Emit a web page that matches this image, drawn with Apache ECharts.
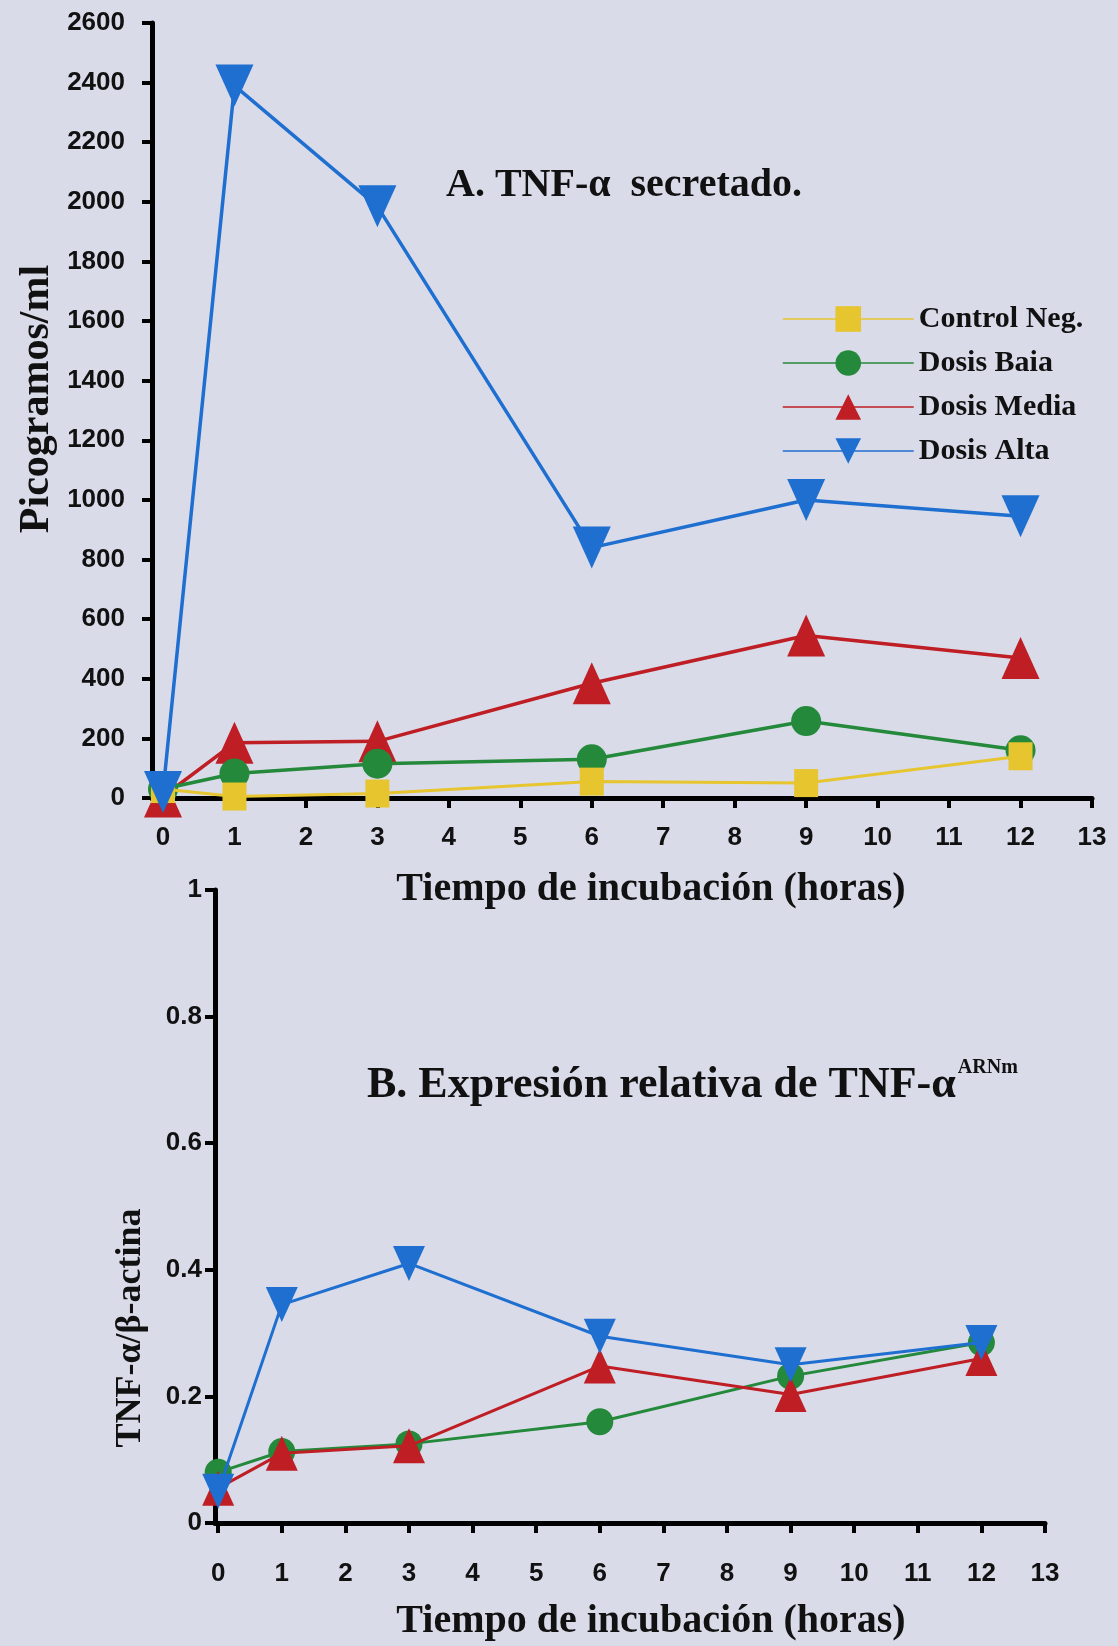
<!DOCTYPE html>
<html><head><meta charset="utf-8">
<script src="https://cdn.jsdelivr.net/npm/echarts@6/dist/echarts.min.js"></script>
<style>html,body{margin:0;padding:0;background:#d9dbe9;}#c{width:1118px;height:1646px;}</style>
</head><body><div id="c"></div>
<script>
// ---- data ----
const hours = [0, 1, 3, 6, 9, 12];
const xTickValues = [0, 1, 2, 3, 4, 5, 6, 7, 8, 9, 10, 11, 12, 13];
const seriesNames = ['Control Neg.', 'Dosis Baia', 'Dosis Media', 'Dosis Alta'];
const secretControlNeg = [30, 5, 15, 55, 50, 140];
const secretDosisBaja = [30, 82, 115, 130, 258, 160];
const secretDosisMedia = [5, 185, 190, 385, 545, 470];
const secretDosisAlta = [20, 2390, 1985, 840, 1000, 945];
const exprDosisBaja = [0.08, 0.113, 0.125, 0.16, 0.232, 0.285];
const exprDosisMedia = [0.055, 0.11, 0.122, 0.248, 0.203, 0.26];
const exprDosisAlta = [0.05, 0.345, 0.41, 0.295, 0.25, 0.285];
const yTicksA = [0, 200, 400, 600, 800, 1000, 1200, 1400, 1600, 1800, 2000, 2200, 2400, 2600];
const yTicksB = [0, 0.2, 0.4, 0.6, 0.8, 1];
const titleA = 'A. TNF-α  secretado.';
const titleB = 'B. Expresión relativa de TNF-α';
const titleBSup = 'ARNm';
const xTitle = 'Tiempo de incubación (horas)';
const yTitleA = 'Picogramos/ml';
const yTitleB = 'TNF-α/β-actina';

// ---- styles ----
const C = {yellow: '#e6c52e', green: '#24893a', red: '#be1e24', blue: '#1e6fd0'};
const serif = '"Liberation Serif", "Times New Roman", serif';
const sans = '"Liberation Sans", Arial, sans-serif';
const downTri = 'path://M0,0L10,0L5,10Z';
const pair = (xs, ys) => xs.map((x, i) => [x, ys[i]]);

function xAxisCfg(gridIndex, min, margin) {
  return {
    type: 'value', gridIndex, min, max: 13,
    axisLine: {onZero: false, lineStyle: {color: '#000', width: 5}},
    axisTick: {show: true, length: 10, lineStyle: {color: '#000', width: 4}, customValues: xTickValues},
    axisLabel: {customValues: xTickValues, color: '#111', fontFamily: sans, fontWeight: 'bold', fontSize: 26, margin},
    splitLine: {show: false}
  };
}
function yAxisCfg(gridIndex, min, max, ticks, margin, fmt) {
  return {
    type: 'value', gridIndex, min, max,
    axisLine: {show: true, onZero: false, lineStyle: {color: '#000', width: 5}},
    axisTick: {show: true, length: 10, lineStyle: {color: '#000', width: 4}, customValues: ticks},
    axisLabel: {customValues: ticks, color: '#111', fontFamily: sans, fontWeight: 'bold', fontSize: 26, margin, formatter: fmt},
    splitLine: {show: false}
  };
}
function lineSeries(name, xi, data, color, symbol, size, width, z) {
  return {
    name, type: 'line', xAxisIndex: xi, yAxisIndex: xi, data,
    symbol, symbolSize: size, showAllSymbol: true, z,
    lineStyle: {color, width}, itemStyle: {color, opacity: 1},
    emphasis: {disabled: true}, animation: false
  };
}

const chart = echarts.init(document.getElementById('c'));
chart.setOption({
  backgroundColor: '#d9dbe9',
  animation: false,
  grid: [
    {left: 152, right: 26, top: 23, height: 775},
    {left: 215, right: 73, top: 890, height: 633}
  ],
  xAxis: [xAxisCfg(0, -0.154, 27), xAxisCfg(1, -0.05, 38)],
  yAxis: [
    yAxisCfg(0, 0, 2600, yTicksA, 27, v => String(v)),
    yAxisCfg(1, 0, 1, yTicksB, 13, v => String(+v.toFixed(1)))
  ],
  legend: {
    orient: 'vertical', left: 777, top: 299,
    itemWidth: 131, itemHeight: 32, itemGap: 14,
    data: seriesNames,
    lineStyle: {width: 1.5},
    textStyle: {fontFamily: serif, fontWeight: 'bold', fontSize: 30, color: '#111'},
    selectedMode: false
  },
  series: [
    lineSeries(seriesNames[0], 0, pair(hours, secretControlNeg), C.yellow, 'rect', [24, 28], 3, 4),
    lineSeries(seriesNames[1], 0, pair(hours, secretDosisBaja), C.green, 'circle', 30, 3.5, 3),
    lineSeries(seriesNames[2], 0, pair(hours, secretDosisMedia), C.red, 'triangle', [38, 42], 3.5, 2),
    lineSeries(seriesNames[3], 0, pair(hours, secretDosisAlta), C.blue, downTri, [38, 42], 3.5, 5),
    lineSeries(seriesNames[1], 1, pair(hours, exprDosisBaja), C.green, 'circle', 27, 3, 2),
    lineSeries(seriesNames[2], 1, pair(hours, exprDosisMedia), C.red, 'triangle', [32, 35], 3, 3),
    lineSeries(seriesNames[3], 1, pair(hours, exprDosisAlta), C.blue, downTri, [32, 35], 3, 4)
  ],
  graphic: [
    {type: 'text', left: 446, top: 166, style: {text: titleA, fontFamily: serif, fontWeight: 'bold', fontSize: 40, fill: '#111'}},
    {type: 'text', x: 651, y: 890, style: {text: xTitle, fontFamily: serif, fontWeight: 'bold', fontSize: 40, fill: '#111', align: 'center', verticalAlign: 'middle'}},
    {type: 'text', x: 37, y: 399, rotation: Math.PI / 2, style: {text: yTitleA, fontFamily: serif, fontWeight: 'bold', fontSize: 42, fill: '#111', align: 'center', verticalAlign: 'middle'}},
    {type: 'text', left: 367, top: 1058, style: {
      text: '{m|' + titleB + '}{s|' + titleBSup + '}',
      rich: {
        m: {fontFamily: serif, fontWeight: 'bold', fontSize: 44, fill: '#111', color: '#111', lineHeight: 50, verticalAlign: 'bottom'},
        s: {fontFamily: serif, fontWeight: 'bold', fontSize: 20, fill: '#111', color: '#111', lineHeight: 50, verticalAlign: 'top', padding: [0, 0, 24, 2]}
      }
    }},
    {type: 'text', x: 651, y: 1622, style: {text: xTitle, fontFamily: serif, fontWeight: 'bold', fontSize: 40, fill: '#111', align: 'center', verticalAlign: 'middle'}},
    {type: 'text', x: 131, y: 1328, rotation: Math.PI / 2, style: {text: yTitleB, fontFamily: serif, fontWeight: 'bold', fontSize: 36, fill: '#111', align: 'center', verticalAlign: 'middle'}}
  ]
});
</script>
</body></html>
